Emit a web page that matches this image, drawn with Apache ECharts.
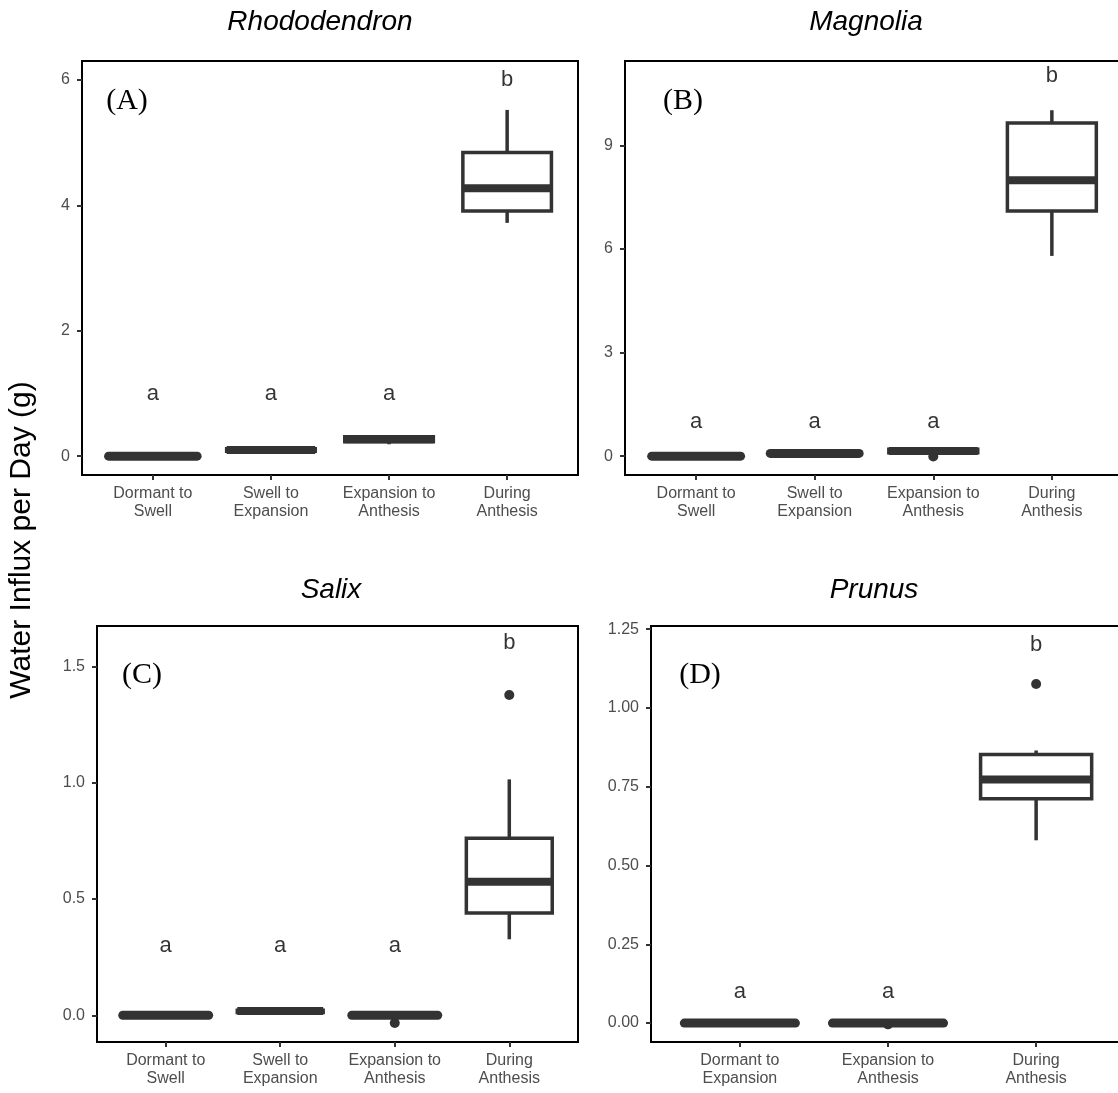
<!DOCTYPE html>
<html><head><meta charset="utf-8">
<script src="https://cdn.jsdelivr.net/npm/echarts@6/dist/echarts.min.js"></script>
<style>html,body{margin:0;padding:0;background:#fff}#c{width:1118px;height:1093px}</style>
</head><body><div id="c"></div>
<script>
// ---------- data ----------
const titles = ['Rhododendron', 'Magnolia', 'Salix', 'Prunus'];
const panelTags = ['(A)', '(B)', '(C)', '(D)'];
const catsFour = ['Dormant to\nSwell', 'Swell to\nExpansion', 'Expansion to\nAnthesis', 'During\nAnthesis'];
const catsPrunus = ['Dormant to\nExpansion', 'Expansion to\nAnthesis', 'During\nAnthesis'];

// box stats: [min, Q1, median, Q3, max]
const boxRhododendron = [[0, 0, 0, 0, 0.01], [0.07, 0.08, 0.10, 0.12, 0.13], [0.19, 0.23, 0.27, 0.31, 0.33], [3.72, 3.91, 4.27, 4.84, 5.52]];
const boxMagnolia = [[0, 0, 0, 0, 0.02], [0.04, 0.06, 0.08, 0.10, 0.12], [0.05, 0.10, 0.15, 0.20, 0.24], [5.80, 7.10, 7.99, 9.65, 10.02]];
const boxSalix = [[0, 0, 0, 0, 0.01], [0.010, 0.012, 0.018, 0.022, 0.025], [-0.005, -0.002, 0, 0.003, 0.005], [0.327, 0.44, 0.575, 0.762, 1.015]];
const boxPrunus = [[0, 0, 0, 0, 0], [0, 0, 0, 0, 0], [0.58, 0.712, 0.773, 0.852, 0.865]];

// outliers: [category position (1-based), value]
const outRhododendron = [];
const outMagnolia = [[3, -0.01]];
const outSalix = [[3, -0.033], [4, 1.378]];
const outPrunus = [[2, -0.004], [3, 1.076]];

// significance letters
const lettersRhododendron = ['a', 'a', 'a', 'b'];
const letterYRhododendron = [1, 1, 1, 6];
const lettersMagnolia = ['a', 'a', 'a', 'b'];
const letterYMagnolia = [1, 1, 1, 11];
const lettersSalix = ['a', 'a', 'a', 'b'];
const letterYSalix = [0.3, 0.3, 0.3, 1.6];
const lettersPrunus = ['a', 'a', 'b'];
const letterYPrunus = [0.1, 0.1, 1.2];

// y tick values
const yTicksRhododendron = [0, 2, 4, 6];
const yTicksMagnolia = [0, 3, 6, 9];
const yTicksSalix = [0, 0.5, 1.0, 1.5];
const yTicksPrunus = [0, 0.25, 0.5, 0.75, 1.0, 1.25];

// ---------- layout ----------
const panels = [
  {cats: catsFour, box: boxRhododendron, out: outRhododendron, let: lettersRhododendron, letY: letterYRhododendron, ticks: yTicksRhododendron, dec: 0,
   grid: {left: 82, top: 61, width: 496, height: 414}, ymin: -0.3, ymax: 6.3, titleX: 320, titleY: 22, tagX: 127, tagY: 101},
  {cats: catsFour, box: boxMagnolia, out: outMagnolia, let: lettersMagnolia, letY: letterYMagnolia, ticks: yTicksMagnolia, dec: 0,
   grid: {left: 625, top: 61, width: 498, height: 414}, ymin: -0.545, ymax: 11.445, titleX: 866, titleY: 22, tagX: 683, tagY: 101},
  {cats: catsFour, box: boxSalix, out: outSalix, let: lettersSalix, letY: letterYSalix, ticks: yTicksSalix, dec: 1,
   grid: {left: 97, top: 626, width: 481, height: 416}, ymin: -0.115, ymax: 1.675, titleX: 331, titleY: 590, tagX: 142, tagY: 675},
  {cats: catsPrunus, box: boxPrunus, out: outPrunus, let: lettersPrunus, letY: letterYPrunus, ticks: yTicksPrunus, dec: 2,
   grid: {left: 651, top: 626, width: 474, height: 416}, ymin: -0.06, ymax: 1.26, titleX: 874, titleY: 590, tagX: 700, tagY: 675}
];

const SANS = '"Liberation Sans", Arial, Helvetica, sans-serif';
const SERIF = '"Liberation Serif", "Times New Roman", serif';
const DARK = '#333333';

function renderBox(params, api) {
  const x = api.value(0);
  const pMin = api.coord([x, api.value(1)]);
  const pQ1 = api.coord([x, api.value(2)]);
  const pMed = api.coord([x, api.value(3)]);
  const pQ3 = api.coord([x, api.value(4)]);
  const pMax = api.coord([x, api.value(5)]);
  const hw = api.size([1, 0])[0] * 0.375;
  const cx = pMed[0];
  const flat = Math.abs(pQ1[1] - pQ3[1]) < 2;
  const ln = {stroke: DARK, lineWidth: 3.5, lineCap: 'butt'};
  return {
    type: 'group',
    children: [
      {type: 'line', shape: {x1: cx, y1: pQ3[1], x2: cx, y2: pMax[1]}, style: ln},
      {type: 'line', shape: {x1: cx, y1: pQ1[1], x2: cx, y2: pMin[1]}, style: ln},
      {type: 'rect', shape: {x: cx - hw, y: pQ3[1], width: 2 * hw, height: pQ1[1] - pQ3[1]},
       style: {stroke: DARK, lineWidth: 3.5, fill: '#ffffff', lineJoin: 'miter'}},
      {type: 'line', shape: {x1: cx - hw, y1: pMed[1], x2: cx + hw, y2: pMed[1]},
       style: {stroke: DARK, lineWidth: flat ? 9 : 8, lineCap: flat ? 'round' : 'butt'}}
    ]
  };
}

const option = {
  animation: false,
  backgroundColor: '#ffffff',
  grid: [], xAxis: [], yAxis: [], series: [], graphic: []
};

panels.forEach((p, i) => {
  option.grid.push(Object.assign({show: true, borderColor: '#000000', borderWidth: 2, backgroundColor: 'transparent',
    containLabel: false, outerBoundsMode: 'none'}, p.grid));
  const n = p.cats.length;
  const catPos = p.cats.map((c, k) => k + 1);
  option.xAxis.push({
    type: 'value', gridIndex: i, min: 0.4, max: n + 0.6, position: 'bottom',
    axisLine: {show: false, onZero: false},
    splitLine: {show: false},
    axisTick: {show: true, length: 5, inside: false, customValues: catPos, lineStyle: {color: DARK, width: 2}},
    axisLabel: {
      customValues: catPos, margin: 10, color: '#4d4d4d', fontSize: 16, fontFamily: SANS, lineHeight: 18,
      formatter: v => p.cats[Math.round(v) - 1] || ''
    }
  });
  option.yAxis.push({
    type: 'value', gridIndex: i, min: p.ymin, max: p.ymax, position: 'left',
    axisLine: {show: false, onZero: false},
    splitLine: {show: false},
    axisTick: {show: true, length: 5, inside: false, customValues: p.ticks, lineStyle: {color: DARK, width: 2}},
    axisLabel: {
      customValues: p.ticks, margin: 12, color: '#4d4d4d', fontSize: 16, fontFamily: SANS,
      formatter: v => Number(v).toFixed(p.dec)
    }
  });
  option.series.push({
    type: 'custom', xAxisIndex: i, yAxisIndex: i,
    renderItem: renderBox,
    encode: {x: 0, y: [1, 2, 3, 4, 5]},
    data: p.box.map((b, k) => [k + 1].concat(b)),
    z: 3
  });
  option.series.push({
    type: 'scatter', xAxisIndex: i, yAxisIndex: i,
    symbolSize: 10, itemStyle: {color: DARK, opacity: 1},
    data: p.out, z: 4
  });
  option.series.push({
    type: 'scatter', xAxisIndex: i, yAxisIndex: i,
    symbolSize: 0,
    data: p.let.map((t, k) => ({value: [k + 1, p.letY[k]], name: t})),
    label: {show: true, position: 'inside', formatter: d => d.name, color: '#000000', fontSize: 22, fontFamily: SANS},
    z: 5
  });
  option.graphic.push({
    type: 'text', x: p.titleX, y: p.titleY,
    style: {text: titles[i], align: 'center', verticalAlign: 'middle', textAlign: 'center', textVerticalAlign: 'middle',
            font: 'italic 28px ' + SANS, fill: '#000000'}
  });
  option.graphic.push({
    type: 'text', x: p.tagX, y: p.tagY,
    style: {text: panelTags[i], align: 'center', verticalAlign: 'middle', textAlign: 'center', textVerticalAlign: 'middle',
            font: '30px ' + SERIF, fill: '#000000'}
  });
});

option.graphic.push({
  type: 'text', x: 22, y: 540, rotation: Math.PI / 2,
  style: {text: 'Water Influx per Day (g)', align: 'center', verticalAlign: 'middle', textAlign: 'center', textVerticalAlign: 'middle',
          font: '30px ' + SANS, fill: '#000000'}
});

const chart = echarts.init(document.getElementById('c'), null, {renderer: 'canvas'});
chart.setOption(option);
</script>
</body></html>
